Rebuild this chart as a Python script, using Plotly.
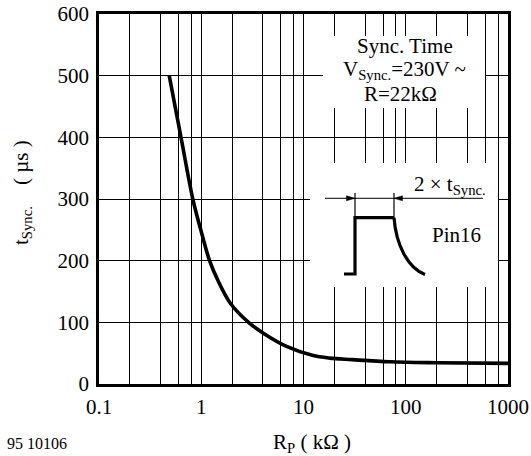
import plotly.graph_objects as go

# ---- data ----
rp_kohm = [0.486, 0.634, 0.827, 0.989, 1.206, 1.445, 1.925, 2.90, 4.08, 6.92, 12.2, 18.0, 30.0, 70.0, 200.0, 1000.0]
t_sync_us = [500, 400, 300, 250, 200, 169, 131, 100, 82, 60.5, 46.5, 42, 39.5, 36, 34.5, 33.5]

x_decades = [0.1, 1, 10, 100, 1000]
x_tick_labels = ["0.1", "1", "10", "100", "1000"]
x_grid_mult = [2, 4, 6, 8]
y_ticks = [0, 100, 200, 300, 400, 500, 600]

FONT = "Liberation Serif"
W, H = 531, 456
L, R, T, B = 99, 508, 14, 384  # plot area in pixels


def px(x):
    return (x - L) / (R - L)


def py(y):
    return (B - y) / (B - T)


minor_vals = [d * m for d in x_decades[:-1] for m in x_grid_mult]

fig = go.Figure()
fig.add_trace(go.Scatter(
    x=rp_kohm, y=t_sync_us, mode="lines",
    line=dict(color="black", width=3.6, shape="spline", smoothing=1.0),
    hoverinfo="skip", showlegend=False,
))

shapes = []
# white boxes over the grid
shapes.append(dict(type="rect", xref="paper", yref="paper",
                   x0=px(323), x1=px(485), y0=py(108), y1=py(36),
                   fillcolor="white", line=dict(width=0), layer="above"))
shapes.append(dict(type="rect", xref="paper", yref="paper",
                   x0=px(310), x1=px(498), y0=py(287), y1=py(163),
                   fillcolor="white", line=dict(width=0), layer="above"))


def seg(x0, y0, x1, y1, w):
    return dict(type="line", xref="paper", yref="paper",
                x0=px(x0), y0=py(y0), x1=px(x1), y1=py(y1),
                line=dict(color="black", width=w), layer="above")


def path(pts, close=False, fill=None, w=1):
    d = "M " + " L ".join(f"{px(a):.5f},{py(b):.5f}" for a, b in pts)
    if close:
        d += " Z"
    s = dict(type="path", xref="paper", yref="paper", path=d,
             line=dict(color="black", width=w), layer="above")
    if fill:
        s["fillcolor"] = fill
    return s


# pulse diagram
shapes.append(seg(325, 198.3, 483, 198.3, 1))          # dimension line
shapes.append(seg(355, 193, 355, 218, 1.2))             # left marker
shapes.append(seg(394, 193, 394, 218, 1.2))             # right marker
shapes.append(path([(346.5, 195.8), (355, 198.3), (346.5, 200.8)], close=True, fill="black", w=0.5))
shapes.append(path([(402.5, 195.8), (394, 198.3), (402.5, 200.8)], close=True, fill="black", w=0.5))
shapes.append(path([(344, 274), (355, 274), (355, 217.7), (394, 217.7)], w=3.2))
decay = dict(type="path", xref="paper", yref="paper",
             path=(f"M {px(394):.5f},{py(217.7):.5f} "
                   f"C {px(396):.5f},{py(245):.5f} {px(408):.5f},{py(268):.5f} {px(425):.5f},{py(274.5):.5f}"),
             line=dict(color="black", width=3.2), layer="above")
shapes.append(decay)

annotations = []


def note(text, x, y, size=21, angle=0):
    annotations.append(dict(text=text, xref="paper", yref="paper",
                            x=px(x), y=py(y), xanchor="center", yanchor="middle",
                            showarrow=False, textangle=angle,
                            font=dict(family=FONT, size=size, color="black")))


note("Sync. Time", 405, 46)
note("V<sub>Sync.</sub>=230V ~", 404, 70)
note("R=22kΩ", 400, 94)
note("2 × t<sub>Sync.</sub>", 450, 185)
note("Pin16", 456, 235)
note("R<sub>P</sub> ( kΩ )", 312, 443)
note("t<sub>Sync.</sub>\u00a0\u00a0\u00a0\u00a0( µs )", 22, 193, angle=-90)
note("95 10106", 37, 443, size=16)

axis_common = dict(
    showgrid=True, gridcolor="black", gridwidth=1, zeroline=False,
    showline=True, linecolor="black", linewidth=2.6, mirror=True,
    ticks="", automargin=False,
    tickfont=dict(family=FONT, size=21, color="black"),
)

fig.update_layout(
    template="none",
    width=W, height=H, autosize=False,
    margin=dict(l=L, r=W - R, t=T, b=H - B, pad=0),
    paper_bgcolor="white", plot_bgcolor="white",
    font=dict(family=FONT, size=21, color="black"),
    shapes=shapes, annotations=annotations,
    showlegend=False,
    xaxis=dict(type="log", range=[-1, 3], tickvals=x_decades, ticktext=x_tick_labels,
               ticklabelstandoff=2,
               minor=dict(tickvals=minor_vals, showgrid=True, gridcolor="black",
                          gridwidth=1, ticks=""),
               **axis_common),
    yaxis=dict(range=[0, 600], tickvals=y_ticks, ticklabelstandoff=3, **axis_common),
)

fig.write_html("out.html", config={"displayModeBar": False},
               post_script="document.body.style.margin='0';")
